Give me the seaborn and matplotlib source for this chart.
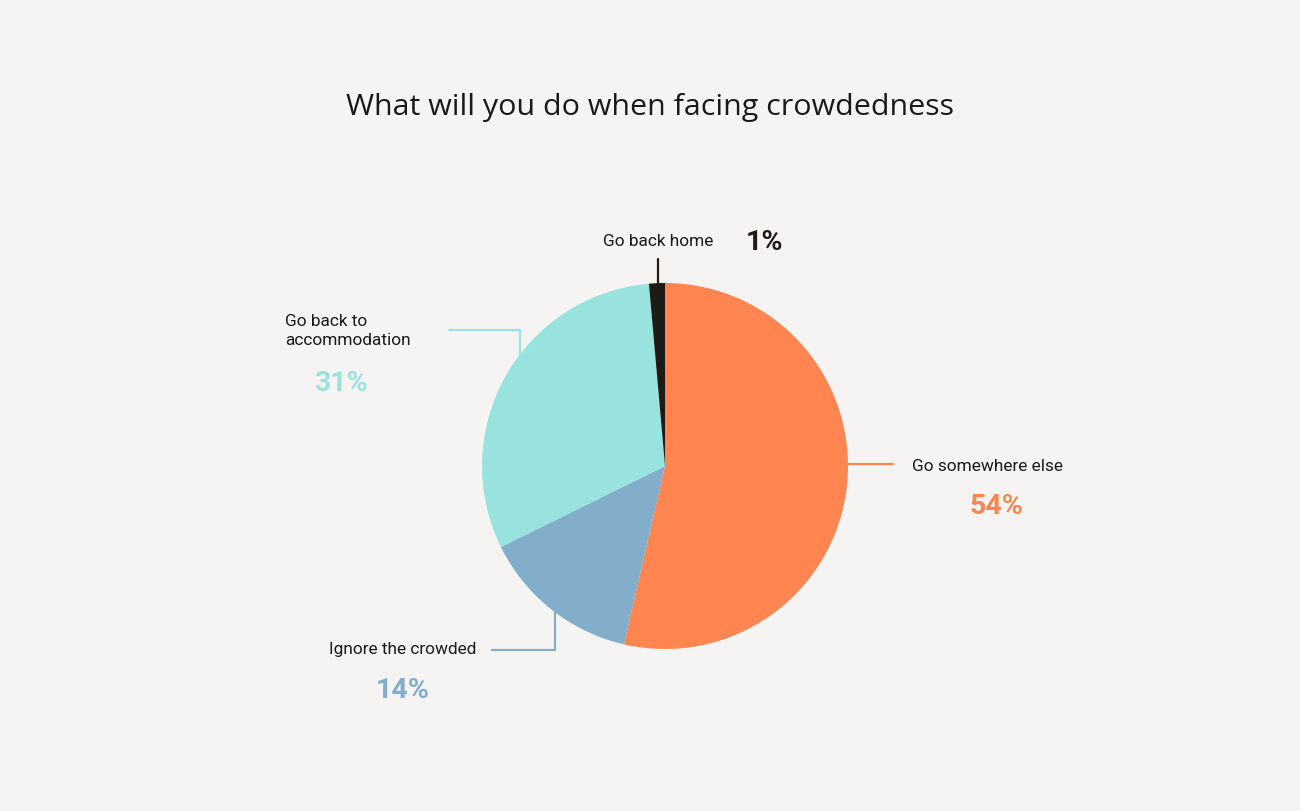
import numpy as np
import matplotlib
matplotlib.use('Agg')
import matplotlib.pyplot as plt
import seaborn as sns

sns.set_style("white")
plt.rcParams['font.family'] = ['Roboto', 'DejaVu Sans']

# Data
labels = ['Go somewhere else', 'Ignore the crowded', 'Go back to\naccommodation', 'Go back home']
shares = [53.6, 14.1, 30.9, 1.4]
colors = ['#FF8551', '#82AECB', '#99E3DE', '#1E1B16']
pct_colors = ['#FF8551', '#82AECB', '#99E3DE', '#1E1B16']

BG = '#F5F4F2'
W, H = 1300, 812
CX, CY, R = 665, H - 467, 183

fig = plt.figure(figsize=(13, 8.12), dpi=100, facecolor=BG)
ax = fig.add_axes([0, 0, 1, 1])
ax.set_facecolor(BG)

ax.pie(shares, colors=colors, startangle=90, counterclock=False,
       center=(CX, CY), radius=R, wedgeprops=dict(linewidth=0))
ax.set_xlim(0, W)
ax.set_ylim(0, H)
ax.set_aspect('equal')
ax.axis('off')

ax.text(650, H - 107, 'What will you do when facing crowdedness', ha='center', va='center',
        fontsize=21.9, color='#1a1a1a', family=['Open Sans', 'DejaVu Sans'])


def edge_y(x, upper=True):
    dy = np.sqrt(max(R**2 - (x - CX)**2, 0))
    return CY + dy if upper else CY - dy


def edge_x(y, right=True):
    dx = np.sqrt(max(R**2 - (y - CY)**2, 0))
    return CX + dx if right else CX - dx


# leader lines (elbow style)
lw = 1.6
# Go somewhere else
y0 = H - 465
ax.plot([edge_x(y0), 893], [y0, y0], color=colors[0], lw=lw)
# Ignore the crowded
y1 = H - 651
ax.plot([492, 555, 555], [y1, y1, edge_y(555, upper=False)], color=colors[1], lw=lw)
# Go back to accommodation
y2 = H - 331
ax.plot([449, 520, 520], [y2, y2, edge_y(520)], color=colors[2], lw=lw)
# Go back home
ax.plot([658, 658], [H - 260, edge_y(658)], color=colors[3], lw=lw)

lab_kw = dict(fontsize=12.4, color='#1a1a1a')
pct_kw = dict(fontsize=20.5, fontweight='bold')

pct = [f"{v:.0f}%" for v in shares]

ax.text(912, H - 467, labels[0], ha='left', va='center', **lab_kw)
ax.text(996, H - 506, pct[0], ha='center', va='center', color=pct_colors[0], **pct_kw)

ax.text(476, H - 650, labels[1], ha='right', va='center', **lab_kw)
ax.text(403, H - 691, pct[1], ha='center', va='center', color=pct_colors[1], **pct_kw)

ax.text(285, H - 331, labels[2], ha='left', va='center', linespacing=1.4, **lab_kw)
ax.text(341, H - 384, pct[2], ha='center', va='center', color=pct_colors[2], **pct_kw)

ax.text(658, H - 241, labels[3], ha='center', va='center', **lab_kw)
ax.text(764, H - 242, pct[3], ha='center', va='center', color=pct_colors[3], **pct_kw)

fig.savefig('out.png', dpi=100, facecolor=BG)
